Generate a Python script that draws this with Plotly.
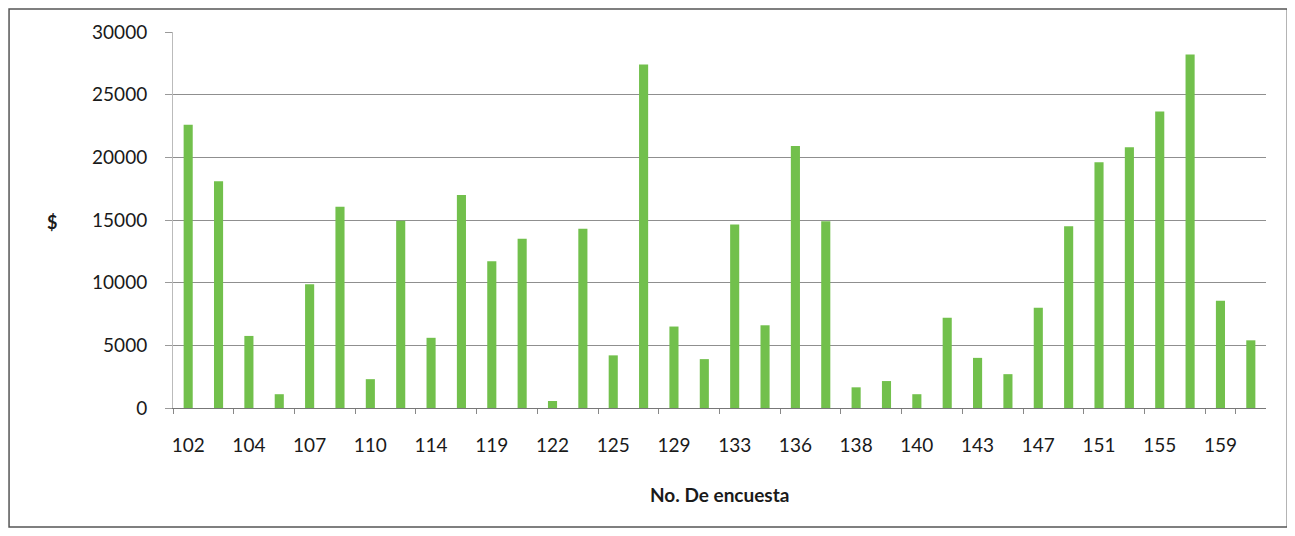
import plotly.graph_objects as go

# survey numbers (only every other one is labelled on the axis)
encuestas = ['102', '103', '104', '106', '107', '108', '110', '112', '114', '116',
             '119', '120', '122', '123', '125', '127', '129', '131', '133', '134',
             '136', '137', '138', '139', '140', '142', '143', '145', '147', '149',
             '151', '153', '155', '157', '159', '160']
shown_labels = encuestas[::2]

# amounts in $
montos = [22600, 18100, 5750, 1100, 9870, 16050, 2300, 14950, 5600, 17000,
          11700, 13500, 560, 14300, 4200, 27400, 6500, 3900, 14650, 6600,
          20900, 14900, 1650, 2150, 1100, 7200, 4000, 2700, 8000, 14500,
          19600, 20800, 23650, 28200, 8550, 5400]

FONT = 'Lato'

fig = go.Figure()
fig.add_trace(go.Bar(
    x=encuestas, y=montos,
    marker=dict(color='#72c04c', line=dict(width=0)),
))

# page body has an 8px margin, so the figure is sized/offset to compensate
fig.update_layout(
    width=1279, height=520,
    margin=dict(l=165, r=21, t=24, b=120),
    paper_bgcolor='white', plot_bgcolor='white',
    showlegend=False,
    bargap=0.7,
    font=dict(family=FONT, size=19, color='#1a1a1a'),
)
fig.update_xaxes(
    type='category',
    tickvals=shown_labels, ticktext=shown_labels,
    tickangle=0, automargin=False,
    ticks='outside', tickson='boundaries', ticklen=5, tickcolor='#888',
    showline=True, linecolor='#777', linewidth=1,
    showgrid=False,
    ticklabelstandoff=20,
)
fig.update_yaxes(
    range=[0, 30000], tickvals=[0, 5000, 10000, 15000, 20000, 25000, 30000],
    tickformat='d', automargin=False,
    showgrid=True, gridcolor='#8f8f8f', gridwidth=1,
    ticks='outside', ticklen=7, tickcolor='#9a9a9a',
    showline=True, linecolor='#bbb', linewidth=1,
    zeroline=False,
    ticklabelstandoff=14,
)

# y axis title "$" (horizontal)
fig.add_annotation(text='<b>$</b>', xref='paper', yref='paper',
                   x=-0.1107, y=0.495, xanchor='center', yanchor='middle',
                   showarrow=False,
                   font=dict(family=FONT, size=18, color='#1a1a1a'))
# x axis title
fig.add_annotation(text='<b>No. De encuesta</b>', xref='paper', yref='paper',
                   x=0.5, y=-0.231, xanchor='center', yanchor='middle',
                   showarrow=False,
                   font=dict(family=FONT, size=19, color='#1a1a1a'))

# chart border (kept just inside the figure so it is not clipped)
fig.add_shape(type='rect', xref='paper', yref='paper',
              x0=-0.150, x1=1.0195, y0=-0.3165, y1=1.061,
              line=dict(color='#555', width=1.5))

fig.write_html("out.html")
